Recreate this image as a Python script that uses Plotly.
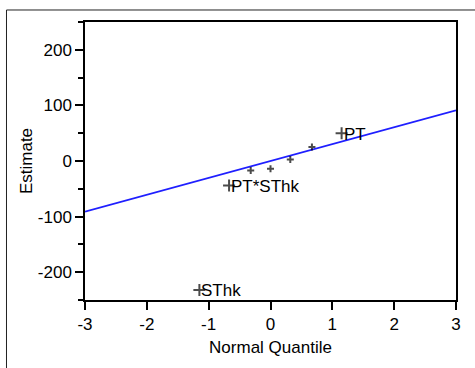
import plotly.graph_objects as go

# Data
quantiles = [-1.15, -0.67, -0.32, 0.0, 0.32, 0.67, 1.15]
estimates = [-232, -44, -17, -14, 2.5, 25, 50]
labels = ["SThk", "PT*SThk", "", "", "", "", "PT"]
line_x = [-3, 3]
line_y = [-91, 91]
x_ticks = [-3, -2, -1, 0, 1, 2, 3]
y_ticks = [-200, -100, 0, 100, 200]

FONT = "Liberation Sans, Arial, sans-serif"
FS = 17

sizes = [8.6 if l else 5.0 for l in labels]

fig = go.Figure()
fig.add_trace(go.Scatter(
    x=line_x, y=line_y, mode="lines",
    line=dict(color="#1f1fff", width=1.8), hoverinfo="skip", showlegend=False,
))
fig.add_trace(go.Scatter(
    x=quantiles, y=estimates, mode="markers",
    marker=dict(symbol="cross-thin", size=sizes, color="black",
                line=dict(color="black", width=2)),
    showlegend=False,
))

for xq, ye, lab in zip(quantiles, estimates, labels):
    if lab:
        fig.add_annotation(x=xq, y=ye, text=lab, showarrow=False,
                           xanchor="left", yanchor="middle", xshift=0, yshift=-1,
                           font=dict(family=FONT, size=FS, color="black"))

axis_common = dict(
    showgrid=False, zeroline=False, showline=True, linecolor="black",
    linewidth=1.5, mirror=True, ticks="outside", ticklen=8, tickwidth=1.5,
    tickcolor="black", tickfont=dict(family=FONT, size=FS, color="black"),
)

fig.update_xaxes(range=[-3, 3], tickvals=x_ticks, ticktext=[str(v) for v in x_ticks],
                 title=dict(text="Normal Quantile", font=dict(family=FONT, size=FS, color="black"),
                            standoff=8),
                 **axis_common)
fig.update_yaxes(range=[-250, 250], tickvals=y_ticks, ticktext=[str(v) for v in y_ticks],
                 minor=dict(tickvals=[-250, -150, -50, 50, 150, 250], ticks="outside",
                            ticklen=5, tickwidth=1.5, tickcolor="black"),
                 title=dict(text="Estimate", font=dict(family=FONT, size=FS, color="black"),
                            standoff=1),
                 **axis_common)

fig.add_shape(type="line", xref="paper", yref="paper",
              x0=-0.2116, x1=1.2, y0=1.0432, y1=1.0432,
              line=dict(color="#222222", width=1))
fig.add_shape(type="line", xref="paper", yref="paper",
              x0=-0.2116, x1=-0.2116, y0=1.0432, y1=-0.5,
              line=dict(color="#222222", width=1))

fig.update_layout(
    width=475, height=368,
    margin=dict(l=85, r=19, t=22, b=68),
    paper_bgcolor="white", plot_bgcolor="white",
    font=dict(family=FONT, size=FS, color="black"),
)

fig.write_html("out.html", config={"displayModeBar": False},
               post_script="document.body.style.margin='0px';document.body.style.overflow='hidden';")
